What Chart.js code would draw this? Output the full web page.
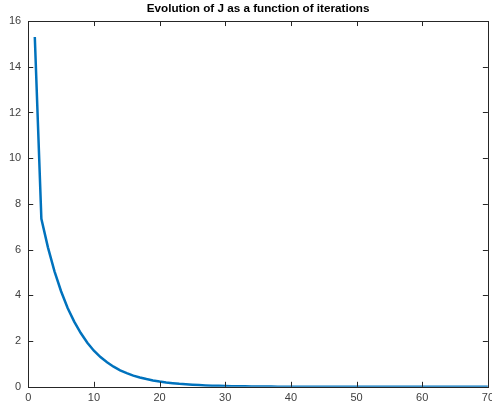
<!DOCTYPE html>
<html>
<head>
<meta charset="utf-8">
<script src="https://cdn.jsdelivr.net/npm/chart.js@4"></script>
<style>
  html, body { margin: 0; padding: 0; background: #fff; overflow: hidden; }
  #wrap { width: 499px; height: 404px; }
</style>
</head>
<body>
<div id="wrap"><canvas id="chart-grafico"></canvas></div>
<script>
// values
const iteraciones = [];
for (let i = 1; i <= 70; i++) iteraciones.push(i);
const valoresJ = [
  15.3, 7.35, 6.1, 5.05, 4.18, 3.45, 2.85, 2.35, 1.93, 1.58,
  1.3, 1.07, 0.88, 0.72, 0.6, 0.49, 0.41, 0.34, 0.28, 0.23,
  0.19, 0.16, 0.13, 0.11, 0.09, 0.075, 0.062, 0.051, 0.042, 0.035,
  0.029, 0.024, 0.02, 0.016, 0.013, 0.011, 0.009, 0.0075, 0.006, 0.005,
  0.004, 0.0035, 0.003, 0.0025, 0.002, 0.0017, 0.0014, 0.0012, 0.001, 0.0008,
  0.0007, 0.0006, 0.0005, 0.0004, 0.0003, 0.0003, 0.0002, 0.0002, 0.0002, 0.0001,
  0.0001, 0.0001, 0.0001, 0.0001, 0.0001, 0.0001, 0.0001, 0.0001, 0.0001, 0.0001
];
const ticksX = [0, 10, 20, 30, 40, 50, 60, 70];
const ticksY = [0, 2, 4, 6, 8, 10, 12, 14, 16];

const puntos = iteraciones.map((x, i) => ({ x: x, y: valoresJ[i] }));

// caja y marcas hacia adentro, estilo matlab
const cajaMatlab = {
  id: 'cajaMatlab',
  afterDatasetsDraw(chart) {
    const { ctx, chartArea: a, scales } = chart;
    ctx.save();
    ctx.strokeStyle = '#262626';
    ctx.lineWidth = 1;
    ctx.beginPath();
    ticksX.forEach(v => {
      const px = Math.round(scales.x.getPixelForValue(v)) + 0.5;
      ctx.moveTo(px, a.bottom); ctx.lineTo(px, a.bottom - 5);
      ctx.moveTo(px, a.top); ctx.lineTo(px, a.top + 5);
    });
    ticksY.forEach(v => {
      const py = Math.round(scales.y.getPixelForValue(v)) + 0.5;
      ctx.moveTo(a.left, py); ctx.lineTo(a.left + 5, py);
      ctx.moveTo(a.right, py); ctx.lineTo(a.right - 5, py);
    });
    ctx.stroke();
    ctx.strokeRect(Math.round(a.left) + 0.5, Math.round(a.top) + 0.5,
      Math.round(a.right - a.left), Math.round(a.bottom - a.top));
    ctx.restore();
  }
};

const fuente = '"Liberation Sans", Arial, sans-serif';

const ctx = document.getElementById('chart-grafico');
new Chart(ctx, {
  type: 'line',
  data: {
    datasets: [
      {
        label: 'J',
        data: puntos,
        borderColor: 'rgb(0, 114, 189)',
        borderWidth: 2.5,
        pointRadius: 0,
        tension: 0,
        fill: false
      }
    ]
  },
  options: {
    responsive: true,
    maintainAspectRatio: false,
    animation: false,
    layout: { padding: { left: 2, right: 0, top: 2, bottom: -6 } },
    plugins: {
      legend: { display: false },
      tooltip: { enabled: false },
      title: {
        display: true,
        text: 'Evolution of J as a function of iterations',
        fullSize: false,
        color: '#000',
        font: { family: fuente, size: 11.7, weight: 'bold' },
        padding: { top: 0, bottom: 5 }
      }
    },
    scales: {
      x: {
        type: 'linear',
        min: 0, max: 70,
        grid: { display: false, drawTicks: false },
        border: { display: false },
        ticks: {
          stepSize: 10,
          color: '#404040',
          padding: 5,
          maxRotation: 0,
          font: { family: fuente, size: 11 }
        }
      },
      y: {
        min: 0, max: 16,
        grid: { display: false, drawTicks: false },
        border: { display: false },
        ticks: {
          stepSize: 2,
          color: '#404040',
          padding: 7,
          font: { family: fuente, size: 11 }
        }
      }
    }
  },
  plugins: [cajaMatlab]
});
</script>
</body>
</html>
